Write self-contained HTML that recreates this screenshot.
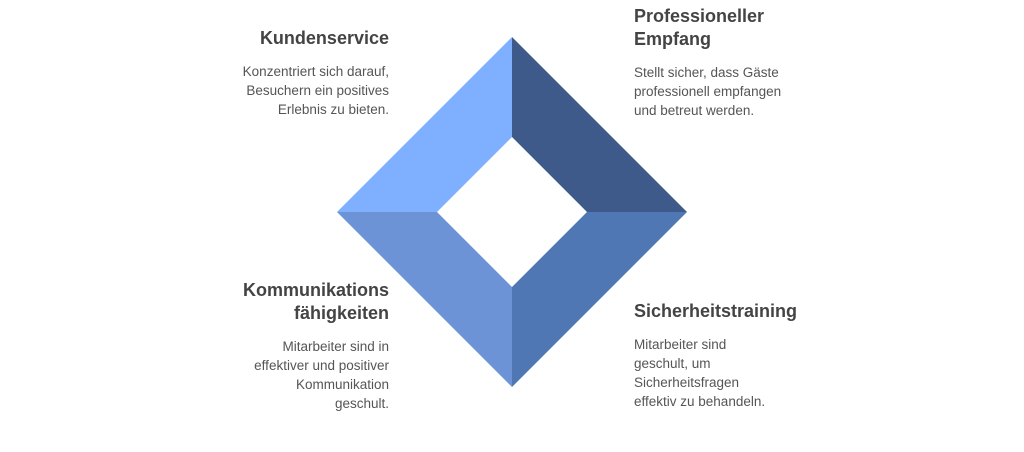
<!DOCTYPE html>
<html><head><meta charset="utf-8"><style>
body{margin:0;width:1024px;height:452px;background:#fff;position:relative;overflow:hidden;font-family:"Liberation Sans",Arial,sans-serif}
.b{position:absolute}
.t{font-weight:bold;font-size:18px;color:#444;line-height:23px}
.d{font-size:13.5px;color:#555;line-height:19px;margin-top:12px}
.r{text-align:right}
</style></head><body>
<svg class="b" style="left:0;top:0" width="1024" height="452">
<polygon points="512,37 512,137 437,212 337,212" fill="#7fb0ff"/>
<polygon points="512,37 687,212 587,212 512,137" fill="#3d5a8a"/>
<polygon points="687,212 512,387 512,287 587,212" fill="#4e77b4"/>
<polygon points="512,387 337,212 437,212 512,287" fill="#6b93d6"/>
</svg>
<div class="b r" style="right:635px;top:27px"><div class="t">Kundenservice</div><div class="d">Konzentriert sich darauf,<br>Besuchern ein positives<br>Erlebnis zu bieten.</div></div>
<div class="b" style="left:634px;top:5px"><div class="t">Professioneller<br>Empfang</div><div class="d">Stellt sicher, dass Gäste<br>professionell empfangen<br>und betreut werden.</div></div>
<div class="b r" style="right:635px;top:279px"><div class="t">Kommunikations<br>fähigkeiten</div><div class="d">Mitarbeiter sind in<br>effektiver und positiver<br>Kommunikation<br>geschult.</div></div>
<div class="b" style="left:634px;top:300px"><div class="t">Sicherheitstraining</div><div class="d">Mitarbeiter sind<br>geschult, um<br>Sicherheitsfragen<br>effektiv zu behandeln.</div></div>
</body></html>
